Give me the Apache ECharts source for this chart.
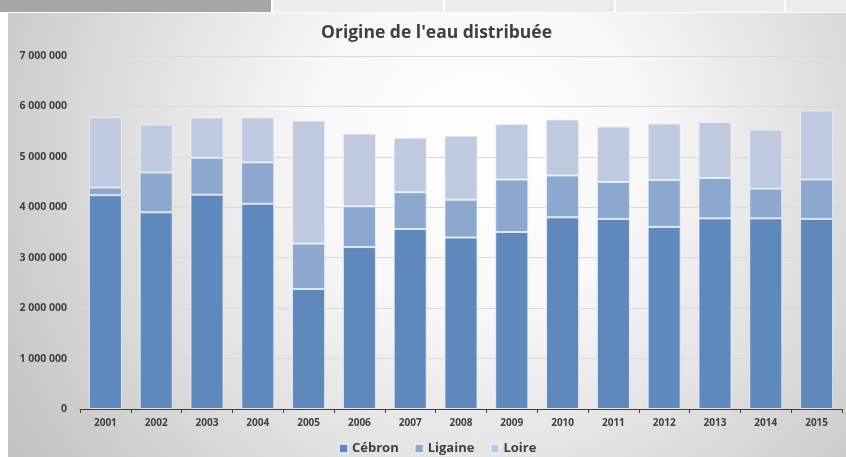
<!DOCTYPE html>
<html>
<head>
<meta charset="utf-8">
<script src="https://cdn.jsdelivr.net/npm/echarts@6/dist/echarts.min.js"></script>
<style>
  html, body { margin: 0; padding: 0; background: #fff; }
  #chart { width: 846px; height: 457px; }
</style>
</head>
<body>
<div id="chart"></div>
<script>
// données (m3)
var annees = ['2001', '2002', '2003', '2004', '2005', '2006', '2007', '2008', '2009', '2010', '2011', '2012', '2013', '2014', '2015'];
var cebron = [4240000, 3900000, 4250000, 4070000, 2380000, 3210000, 3570000, 3400000, 3510000, 3800000, 3770000, 3610000, 3780000, 3780000, 3770000];
var ligaine = [150000, 790000, 730000, 820000, 900000, 810000, 730000, 750000, 1040000, 830000, 730000, 930000, 800000, 590000, 780000];
var loire = [1400000, 950000, 800000, 890000, 2440000, 1440000, 1080000, 1270000, 1100000, 1110000, 1100000, 1120000, 1110000, 1170000, 1370000];

var police = '"Open Sans", Lato, sans-serif';

function milliers(v) {
  return String(v).replace(/\B(?=(\d{3})+(?!\d))/g, ' ');
}

var myChart = echarts.init(document.getElementById('chart'));

var option = {
  animation: false,
  backgroundColor: '#fff',
  textStyle: { fontFamily: police },
  graphic: [
    // bandeau du tableur en haut
    { type: 'rect', shape: { x: 0, y: 0, width: 271, height: 12 }, style: { fill: '#a6a6a6' }, silent: true },
    { type: 'rect', shape: { x: 273, y: 0, width: 170, height: 12 }, style: { fill: '#ececec' }, silent: true },
    { type: 'rect', shape: { x: 445, y: 0, width: 169, height: 12 }, style: { fill: '#ececec' }, silent: true },
    { type: 'rect', shape: { x: 616, y: 0, width: 168, height: 12 }, style: { fill: '#ececec' }, silent: true },
    { type: 'rect', shape: { x: 786, y: 0, width: 60, height: 12 }, style: { fill: '#ececec' }, silent: true },
    // fond de la zone graphique
    {
      type: 'rect', z: -10, silent: true,
      shape: { x: 8, y: 13, width: 838, height: 444 },
      style: {
        fill: {
          type: 'radial', x: 0.56, y: 0.3, r: 1.25,
          colorStops: [
            { offset: 0, color: '#ffffff' },
            { offset: 0.3, color: '#f8f8f8' },
            { offset: 1, color: '#c2c2c2' }
          ]
        }
      }
    }
  ],
  title: {
    text: "Origine de l'eau distribuée",
    left: 316,
    top: 19,
    textStyle: { fontSize: 17.5, fontWeight: 'bold', color: '#404040', fontFamily: police }
  },
  legend: {
    top: 437,
    left: 333,
    itemWidth: 9,
    itemHeight: 9,
    itemGap: 15,
    icon: 'rect',
    textStyle: { fontSize: 13, fontWeight: 'bold', color: '#404040', fontFamily: police, padding: [0, 0, 0, -1] },
    data: ['Cébron', 'Ligaine', 'Loire']
  },
  grid: {
    left: 80,
    right: 4,
    top: 56,
    bottom: 48
  },
  xAxis: {
    type: 'category',
    data: annees,
    axisLine: { lineStyle: { color: '#404040', width: 1 } },
    axisTick: { show: true, length: 4, lineStyle: { color: '#404040' } },
    axisLabel: { fontSize: 10, fontWeight: 'bold', color: '#404040', margin: 9 }
  },
  yAxis: {
    type: 'value',
    min: 0,
    max: 7000000,
    interval: 1000000,
    axisLine: { show: false },
    axisTick: { show: false },
    splitLine: { lineStyle: { color: '#d9d9d9', width: 1 } },
    axisLabel: {
      fontSize: 10.5, fontWeight: 'bold', color: '#404040', margin: 13,
      formatter: milliers
    }
  },
  series: [
    {
      name: 'Cébron', type: 'bar', stack: 'eau', data: cebron, barWidth: '65%',
      itemStyle: { color: '#5f88bc', borderColor: 'rgba(235,240,250,0.8)', borderWidth: 1 }
    },
    {
      name: 'Ligaine', type: 'bar', stack: 'eau', data: ligaine,
      itemStyle: { color: '#8da8cf', borderColor: 'rgba(235,240,250,0.8)', borderWidth: 1 }
    },
    {
      name: 'Loire', type: 'bar', stack: 'eau', data: loire,
      itemStyle: { color: '#bfcae1', borderColor: 'rgba(235,240,250,0.8)', borderWidth: 1 }
    }
  ]
};

myChart.setOption(option);
window.onresize = () => myChart.resize();
</script>
</body>
</html>
